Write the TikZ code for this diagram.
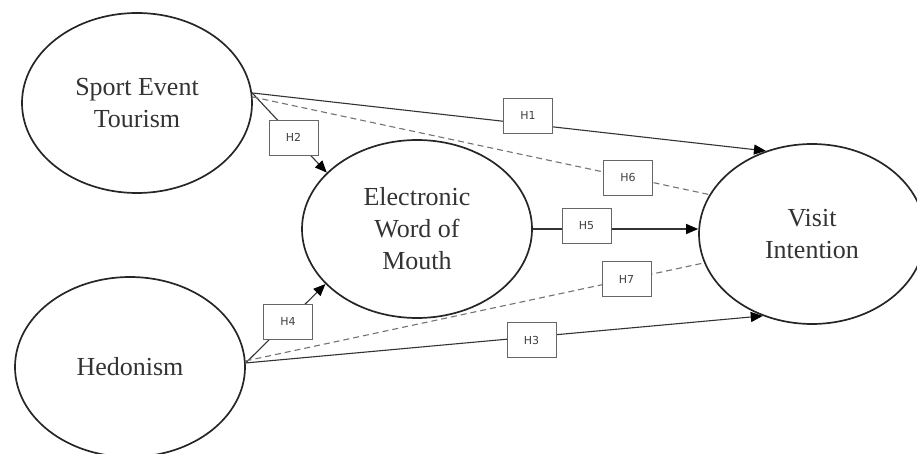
\documentclass[tikz,border=0pt]{standalone}
\usepackage{fontspec}
\setmainfont{Liberation Serif}
\newfontfamily\hypfont{DejaVu Sans}
\usetikzlibrary{shapes.geometric,arrows.meta}
\begin{document}
\begin{tikzpicture}[x=1pt,y=-1pt,
  construct/.style={ellipse, draw=black!85, line width=1.7pt, inner sep=0pt, align=center, font=\fontsize{26}{32}\selectfont, text=black!80},
  hyp/.style={draw=black!60, line width=0.9pt, fill=white, minimum width=49pt, minimum height=35pt, inner sep=0pt, font=\hypfont\fontsize{11}{13}\selectfont, text=black!75},
  arrowline/.style={draw=black!80, line width=1.1pt, -{Triangle[length=12pt,width=10pt,color=black]}},
  dashline/.style={draw=black!55, line width=1.1pt, dash pattern=on 6pt off 4pt},
]
\useasboundingbox (0,0) rectangle (917,454);
\node[construct, minimum width=230pt, minimum height=180pt] (set) at (137,103) {Sport Event\\Tourism};
\node[construct, minimum width=230pt, minimum height=180pt] (hed) at (130,367) {Hedonism};
\node[construct, minimum width=230pt, minimum height=178pt] (ewom) at (417,229) {Electronic\\Word of\\Mouth};
\node[construct, minimum width=226pt, minimum height=180pt] (vi) at (812,234) {Visit\\Intention};

% connectors
\draw[arrowline] (set.5) -- (vi.119);
\draw[arrowline] (set.5) -- (ewom.148);
\draw[dashline] (set.3) -- (vi.159);
\draw[arrowline] (hed.2) -- (ewom.211);
\draw[arrowline] (hed.2) -- (vi.239);
\draw[dashline] (hed.3) -- (vi.195);
\draw[arrowline] (ewom.east) -- (ewom.east -| vi.west);

% hypothesis boxes
\node[hyp] (h1) at (528,115.5) {H1};
\node[hyp] (h2) at (293.5,137.5) {H2};
\node[hyp] (h3) at (531.5,340) {H3};
\node[hyp] (h4) at (288,321.5) {H4};
\node[hyp] (h5) at (586.5,225.5) {H5};
\node[hyp] (h6) at (628,177.5) {H6};
\node[hyp] (h7) at (626.5,279) {H7};
\end{tikzpicture}
\end{document}
